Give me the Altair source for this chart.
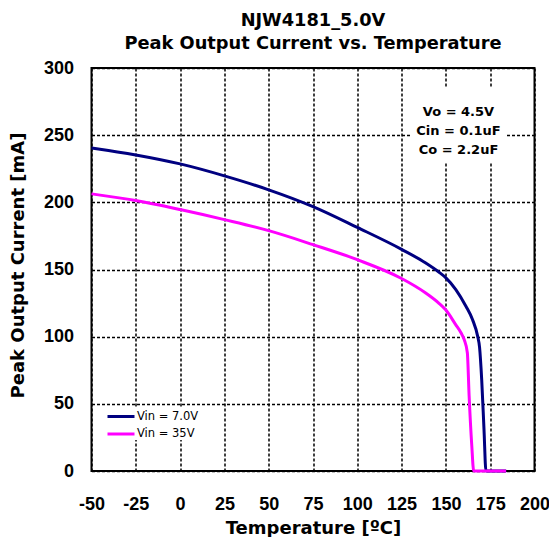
import altair as alt
import pandas as pd

# ---- data ----
series_names = ["Vin = 7.0V", "Vin = 35V"]
series_colors = ["#000080", "#FF00FF"]

t_7v = [-50, -25, 0, 25, 50, 75, 100, 125, 138.4, 145.8, 150, 155.6, 161.3, 165, 167.9,
        169, 170.2, 171.5, 172.6, 184]
i_7v = [240.5, 235.3, 228.6, 219.7, 209.3, 196.8, 181.3, 165.0, 155.0, 148.3, 143.8,
        135.1, 122.7, 112.8, 100.4, 92.0, 68.0, 31.0, 0, 0]

t_35v = [-50, -25, 0, 25, 50, 75, 100, 125, 138.4, 145.8, 150, 155.6, 158.5, 160.3,
         162.1, 163.1, 164.6, 165.7, 184]
i_35v = [206.3, 201.3, 194.6, 187.1, 178.9, 168.5, 157.3, 143.3, 132.7, 125.2, 119.8,
         108.8, 102.9, 97.9, 88.0, 56.0, 19.0, 0, 0]

x_ticks = [-50, -25, 0, 25, 50, 75, 100, 125, 150, 175, 200]
y_ticks = [0, 50, 100, 150, 200, 250, 300]

title_lines = ["NJW4181_5.0V", "Peak Output Current vs. Temperature"]
annotation_lines = ["Vo = 4.5V", "Cin = 0.1uF", "Co = 2.2uF"]

rows = []
for name, ts, vs in [(series_names[0], t_7v, i_7v), (series_names[1], t_35v, i_35v)]:
    for k, (t, v) in enumerate(zip(ts, vs)):
        rows.append({"series": name, "T": t, "I": v, "order": k})
df = pd.DataFrame(rows)

W, H = 443, 403
FONT = "DejaVu Sans"
TICKFONT = "Liberation Sans"

lines = alt.Chart(df).mark_line(strokeWidth=3, interpolate="monotone").encode(
    x=alt.X("T:Q", scale=alt.Scale(domain=[-50, 200], nice=False),
            axis=alt.Axis(values=x_ticks, title="Temperature [ºC]", titleY=62,
                          labelPadding=24, titleBaseline="alphabetic",
                          labelFlush=False, labelOverlap=False,
                          labelExpr="'' + datum.value")),
    y=alt.Y("I:Q", scale=alt.Scale(domain=[0, 300], nice=False),
            axis=alt.Axis(values=y_ticks, title="Peak Output Current [mA]",
                          titleX=-68, titleY=197, titleBaseline="alphabetic",
                          labelPadding=18, labelFlush=False, labelOverlap=False)),
    color=alt.Color("series:N", sort=series_names,
                    scale=alt.Scale(domain=series_names, range=series_colors),
                    legend=alt.Legend(title=None, orient="none", legendX=21, legendY=340,
                                      symbolType="M-2,0H2", symbolSize=182.25,
                                      symbolStrokeWidth=3,
                                      labelFont=FONT, labelFontSize=11.5, labelOffset=7.5,
                                      labelColor="black",
                                      rowPadding=2.5, padding=0, fillColor="white")),
    order="order:Q",
    detail="series:N",
)

box = alt.Chart(alt.Data(values=[{}])).mark_rect(color="white").encode(
    x=alt.value(320.5), x2=alt.value(415.5), y=alt.value(19), y2=alt.value(95)
)

note = alt.Chart(alt.Data(values=[{}])).mark_text(
    font=FONT, fontSize=13, fontWeight="bold", lineBreak="\n", lineHeight=19,
    baseline="middle", align="center", color="black"
).encode(x=alt.value(367), y=alt.value(44), text=alt.value("\n".join(annotation_lines)))

chart = alt.layer(lines, box, note).properties(
    width=W, height=H,
    title=alt.TitleParams(text=title_lines, font=FONT, fontSize=17.8, fontWeight="bold",
                          anchor="middle", lineHeight=23.5, offset=6, color="black"),
    autosize=alt.AutoSizeParams(type="none"),
    padding={"left": 83.5, "top": 60, "right": 14.5, "bottom": 66},
).configure_view(stroke="black", strokeWidth=2).configure_axis(
    grid=True, gridColor="black", gridDash=[3, 2], gridWidth=1.5, gridOpacity=1,
    domain=False, ticks=False,
    labelFont=TICKFONT, labelFontSize=18, labelFontWeight="bold", labelColor="black",
    titleFont=FONT, titleFontSize=18, titleFontWeight="bold", titleColor="black",
)

chart.save("out.html", embed_options={"renderer": "svg", "actions": False})
